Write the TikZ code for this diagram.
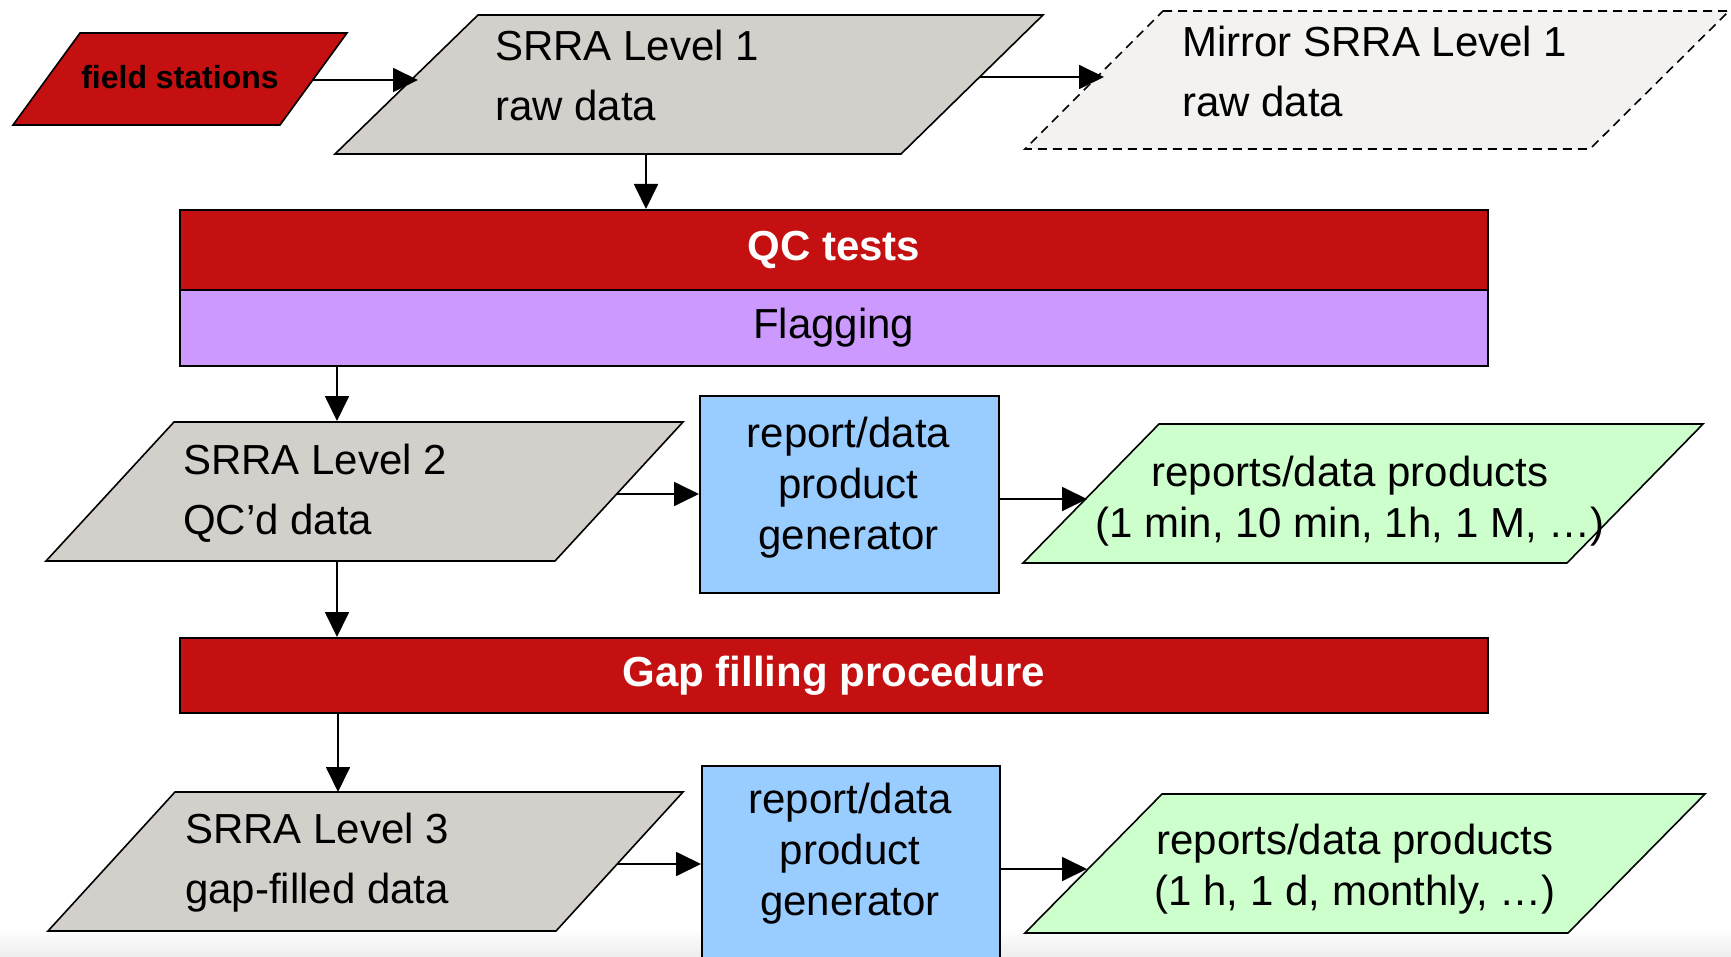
\documentclass[tikz,border=0pt]{standalone}
\usepackage{fontspec}
\setmainfont{Liberation Sans}
\usetikzlibrary{arrows.meta}
\definecolor{qcred}{HTML}{C41010}
\definecolor{graybox}{HTML}{D3CFCB}
\definecolor{mirrorfill}{HTML}{F3F2F0}
\definecolor{flagpurple}{HTML}{CC99FF}
\definecolor{genblue}{HTML}{99CCFF}
\definecolor{prodgreen}{HTML}{CCFFCC}
\tikzset{
  shapeline/.style={draw=black, line width=1.6pt, line join=miter},
  rectbox/.style={draw=black, line width=1.6pt, rectangle, inner sep=0pt, anchor=north west},
  arr/.style={line width=1.8pt, -{Triangle[length=25pt,width=24pt]}},
  txt/.style={font=\fontsize{42}{60}\selectfont, inner sep=0pt, align=left},
  ctxt/.style={font=\fontsize{42}{51}\selectfont, inner sep=0pt, align=center},
  boldtxt/.style={font=\fontsize{42}{50}\selectfont\bfseries}
}
\begin{document}
\begin{tikzpicture}[x=1pt,y=-1pt]
\useasboundingbox (0,0) rectangle (1731,957);
\shade[top color=white,bottom color=black!7] (0,928) rectangle (1731,957);

% field stations
\path[shapeline, fill=qcred] (80,33) -- (347,33) -- (280,125) -- (13,125) -- cycle;
\node[inner sep=0pt, anchor=base, font=\fontsize{32}{38}\selectfont\bfseries] (fs) at (180,89) {field stations};
\coordinate (fs-out) at (312,80);

% SRRA Level 1
\path[shapeline, fill=graybox] (478,15) -- (1043,15) -- (901,154) -- (335,154) -- cycle;
\node[txt, anchor=base west] (l1) at (495,121) {SRRA Level 1\\raw data};
\coordinate (l1-in) at (418,80);
\coordinate (l1-out) at (980,77);
\coordinate (l1-down) at (646,154);

% Mirror
\path[shapeline, dash pattern=on 9pt off 6pt, fill=mirrorfill] (1163,11) -- (1729,11) -- (1590,149) -- (1025,149) -- cycle;
\node[txt, anchor=base west] (mir) at (1182,117) {Mirror SRRA Level 1\\raw data};
\coordinate (mir-in) at (1104,77);

% QC tests / Flagging
\node[rectbox, fill=qcred, minimum width=1308pt, minimum height=80pt, boldtxt, text=white] (qc) at (179,209) {QC tests};
\node[rectbox, fill=flagpurple, minimum width=1308pt, minimum height=76pt, font=\fontsize{42}{50}\selectfont] (flag) at (179,289) {Flagging};

% SRRA Level 2
\path[shapeline, fill=graybox] (174,422) -- (683,422) -- (555,561) -- (46,561) -- cycle;
\node[txt, anchor=base west] (l2) at (183,534) {SRRA Level 2\\QC’d data};
\coordinate (l2-top) at (337,421);
\coordinate (l2-out) at (616,494);
\coordinate (l2-bot) at (337,561);

% generator 1
\node[rectbox, fill=genblue, minimum width=299pt, minimum height=197pt] (gen1) at (699,395) {};
\node[ctxt, anchor=base] (gen1txt) at (848.5,549) {report/data\\product\\generator};

% products 1
\path[shapeline, fill=prodgreen] (1159,424) -- (1703,424) -- (1567,563) -- (1023,563) -- cycle;
\node[ctxt, anchor=base] (prod1) at (1350,537) {reports/data products\\(1 min, 10 min, 1h, 1 M, …)};
\coordinate (prod1-in) at (1087,499);

% Gap filling
\node[rectbox, fill=qcred, minimum width=1308pt, minimum height=75pt, boldtxt, text=white] (gap) at (179,637) {Gap filling procedure};

% SRRA Level 3
\path[shapeline, fill=graybox] (175,792) -- (683,792) -- (556,931) -- (48,931) -- cycle;
\node[txt, anchor=base west] (l3) at (185,903) {SRRA Level 3\\gap-filled data};
\coordinate (l3-top) at (338,792);
\coordinate (l3-out) at (617,864);

% generator 2
\node[rectbox, fill=genblue, minimum width=298pt, minimum height=230pt] (gen2) at (701,765) {};
\node[ctxt, anchor=base] (gen2txt) at (850,915) {report/data\\product\\generator};

% products 2
\path[shapeline, fill=prodgreen] (1162,794) -- (1705,794) -- (1568,933) -- (1025,933) -- cycle;
\node[ctxt, anchor=base] (prod2) at (1355,905) {reports/data products\\(1 h, 1 d, monthly, …)};
\coordinate (prod2-in) at (1087,869);

% connectors
\draw[arr] (fs-out) -- (l1-in);
\draw[arr] (l1-out) -- (mir-in);
\draw[arr] (l1-down) -- (l1-down |- qc.north);
\draw[arr] (flag.south -| l2-top) -- (l2-top);
\draw[arr] (l2-out) -- (l2-out -| gen1.west);
\draw[arr] (gen1.east |- prod1-in) -- (prod1-in);
\draw[arr] (l2-bot) -- (l2-bot |- gap.north);
\draw[arr] (gap.south -| l3-top) -- (l3-top);
\draw[arr] (l3-out) -- (l3-out -| gen2.west);
\draw[arr] (gen2.east |- prod2-in) -- (prod2-in);
\end{tikzpicture}
\end{document}
